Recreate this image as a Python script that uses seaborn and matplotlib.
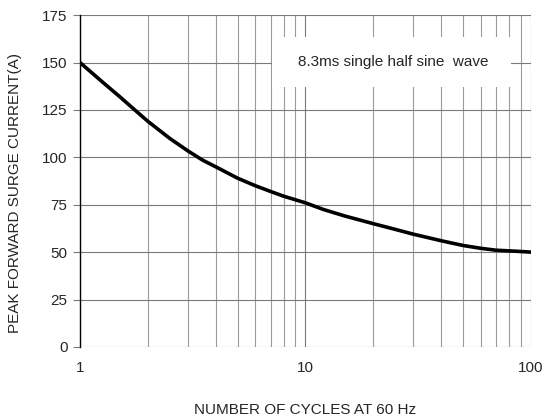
import matplotlib
matplotlib.use("Agg")
import matplotlib.pyplot as plt
import seaborn as sns
import pandas as pd
from matplotlib.patches import Rectangle

# data
cycles = [1, 1.25, 1.5, 1.75, 2, 2.5, 3, 3.5, 4, 5, 6, 7, 8, 10, 12, 15, 20, 25, 30, 40, 50, 60, 70, 85, 100]
current = [150, 140, 132, 125, 119, 110, 103.5, 98.5, 95, 89, 85, 82, 79.5, 76, 72.5, 69, 65, 62, 59.5, 56, 53.5, 52, 51, 50.5, 50]
y_ticks = [0, 25, 50, 75, 100, 125, 150, 175]
x_ticks = [1, 10, 100]

df = pd.DataFrame({"cycles": cycles, "current": current})

sns.set_style("white")
plt.rcParams["font.family"] = ["Liberation Sans", "DejaVu Sans"]

fig = plt.figure(figsize=(5.44, 4.2), dpi=100)
ax = fig.add_axes([0.147, 0.174, 0.829, 0.790])

sns.lineplot(data=df, x="cycles", y="current", color="black", linewidth=2.6, ax=ax)
ax.set_xscale("log")
ax.set_xlim(1, 100)
ax.set_ylim(0, 175)
ax.set_yticks(y_ticks)
ax.set_xticks(x_ticks)
ax.set_xticklabels([str(t) for t in x_ticks], fontsize=11)
ax.set_yticklabels([str(t) for t in y_ticks], fontsize=11)

ax.grid(True, which="major", axis="both", color="#7a7a7a", linewidth=0.8)
ax.grid(True, which="minor", axis="x", color="#9a9a9a", linewidth=0.8)
ax.set_axisbelow(True)

for s in ["top", "right", "bottom"]:
    ax.spines[s].set_visible(False)
ax.spines["left"].set_color("black")
ax.spines["left"].set_linewidth(1.0)

ax.tick_params(axis="y", which="major", length=5, width=0.8, color="#7a7a7a", direction="out", left=True, pad=4)
ax.tick_params(axis="x", which="both", length=0, pad=10)

ax.set_xlabel("NUMBER OF CYCLES AT 60 Hz", fontsize=11, labelpad=20)
ax.set_ylabel("PEAK FORWARD SURGE CURRENT(A)", fontsize=11)
ax.yaxis.set_label_coords(-0.128, 0.465)

ax.add_patch(Rectangle((0.426, 0.783), 0.53, 0.151, transform=ax.transAxes,
                       facecolor="white", edgecolor="none", zorder=3))
ax.text(0.694, 0.858, "8.3ms single half sine  wave", transform=ax.transAxes,
        ha="center", va="center", fontsize=11, zorder=4)

fig.savefig("out.png", dpi=100)
